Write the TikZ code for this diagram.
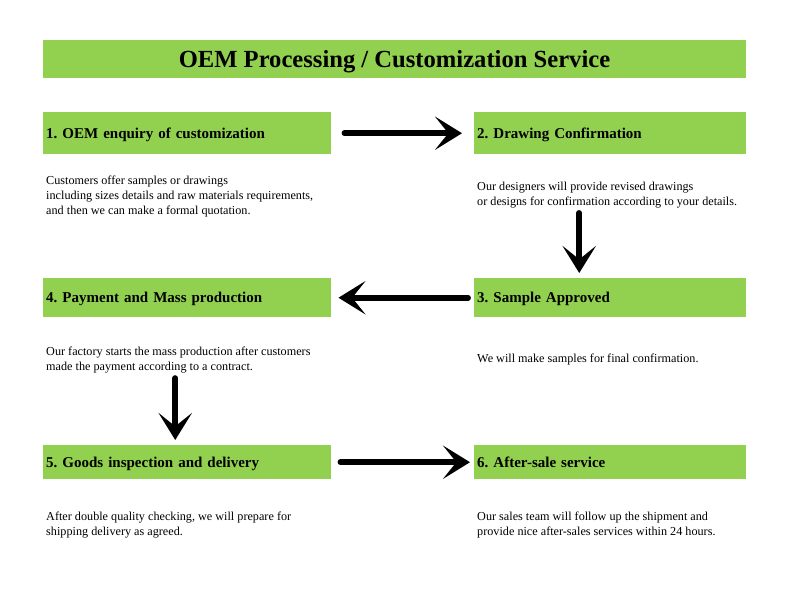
\documentclass[tikz,border=0pt]{standalone}
\usepackage{fontspec}
\setmainfont{Liberation Serif}
\usetikzlibrary{arrows.meta, positioning}
\definecolor{oemgreen}{RGB}{146,208,80}
\frenchspacing

\begin{document}
\begin{tikzpicture}[
    x=0.03cm, y=-0.03cm,
    banner/.style={rectangle, fill=oemgreen, minimum width=21.09cm, minimum height=1.14cm, text depth=0pt, font=\fontsize{21}{24}\selectfont\bfseries},
    stage/.style={rectangle, fill=oemgreen, anchor=north west, inner xsep=0.09cm, inner ysep=0pt, text depth=0pt, align=left, font=\fontsize{12.8}{15}\selectfont\bfseries},
    note/.style={anchor=north west, inner xsep=0.09cm, inner ysep=0pt, align=left, font=\fontsize{10.4}{12.75}\selectfont},
    bigarrow/.style={line width=5pt, line cap=round, -{Stealth[length=0.81cm, width=1cm, inset=0.4cm]}}
]
\useasboundingbox (0,0) rectangle (800,596);

% Title
\node[banner] (title) at (394.5,59) {OEM Processing / Customization Service};

% Stages
\node[stage, text width=8.46cm, minimum height=1.26cm] (s1) at (43,112) {1. OEM enquiry of customization};
\node[stage, text width=7.98cm, minimum height=1.26cm] (s2) at (474,112) {2. Drawing Confirmation};
\node[stage, text width=7.98cm, minimum height=1.17cm] (s3) at (474,278) {3. Sample Approved};
\node[stage, text width=8.46cm, minimum height=1.17cm] (s4) at (43,278) {4. Payment and Mass production};
\node[stage, text width=8.46cm, minimum height=1.02cm] (s5) at (43,445) {5. Goods inspection and delivery};
\node[stage, text width=7.98cm, minimum height=1.02cm] (s6) at (474,445) {6. After-sale service};

% Notes
\node[note] (d1) at (43,175.5) {Customers offer samples or drawings\\including sizes details and raw materials requirements,\\and then we can make a formal quotation.};
\node[note] (d2) at (474,181.5) {Our designers will provide revised drawings\\or designs for confirmation according to your details.};
\node[note] (d3) at (474,353.5) {We will make samples for final confirmation.};
\node[note] (d4) at (43,346.5) {Our factory starts the mass production after customers\\made the payment according to a contract.};
\node[note] (d5) at (43,511.5) {After double quality checking, we will prepare for\\shipping delivery as agreed.};
\node[note] (d6) at (474,511.5) {Our sales team will follow up the shipment and\\provide nice after-sales services within 24 hours.};

% Flow
\draw[bigarrow, shorten <=0.39cm, shorten >=0.36cm] (s1) -- (s2);
\draw[bigarrow, shorten <=0.15cm, shorten >=0.15cm] ([xshift=-0.93cm]s3.north |- d2.south) -- ([xshift=-0.93cm]s3.north);
\draw[bigarrow, shorten <=0.18cm, shorten >=0.21cm] (s3) -- (s4);
\draw[bigarrow, shorten <=0.15cm, shorten >=0.15cm] ([xshift=-0.36cm]s5.north |- d4.south) -- ([xshift=-0.36cm]s5.north);
\draw[bigarrow, shorten <=0.27cm, shorten >=0.12cm] (s5) -- (s6);

\end{tikzpicture}
\end{document}
